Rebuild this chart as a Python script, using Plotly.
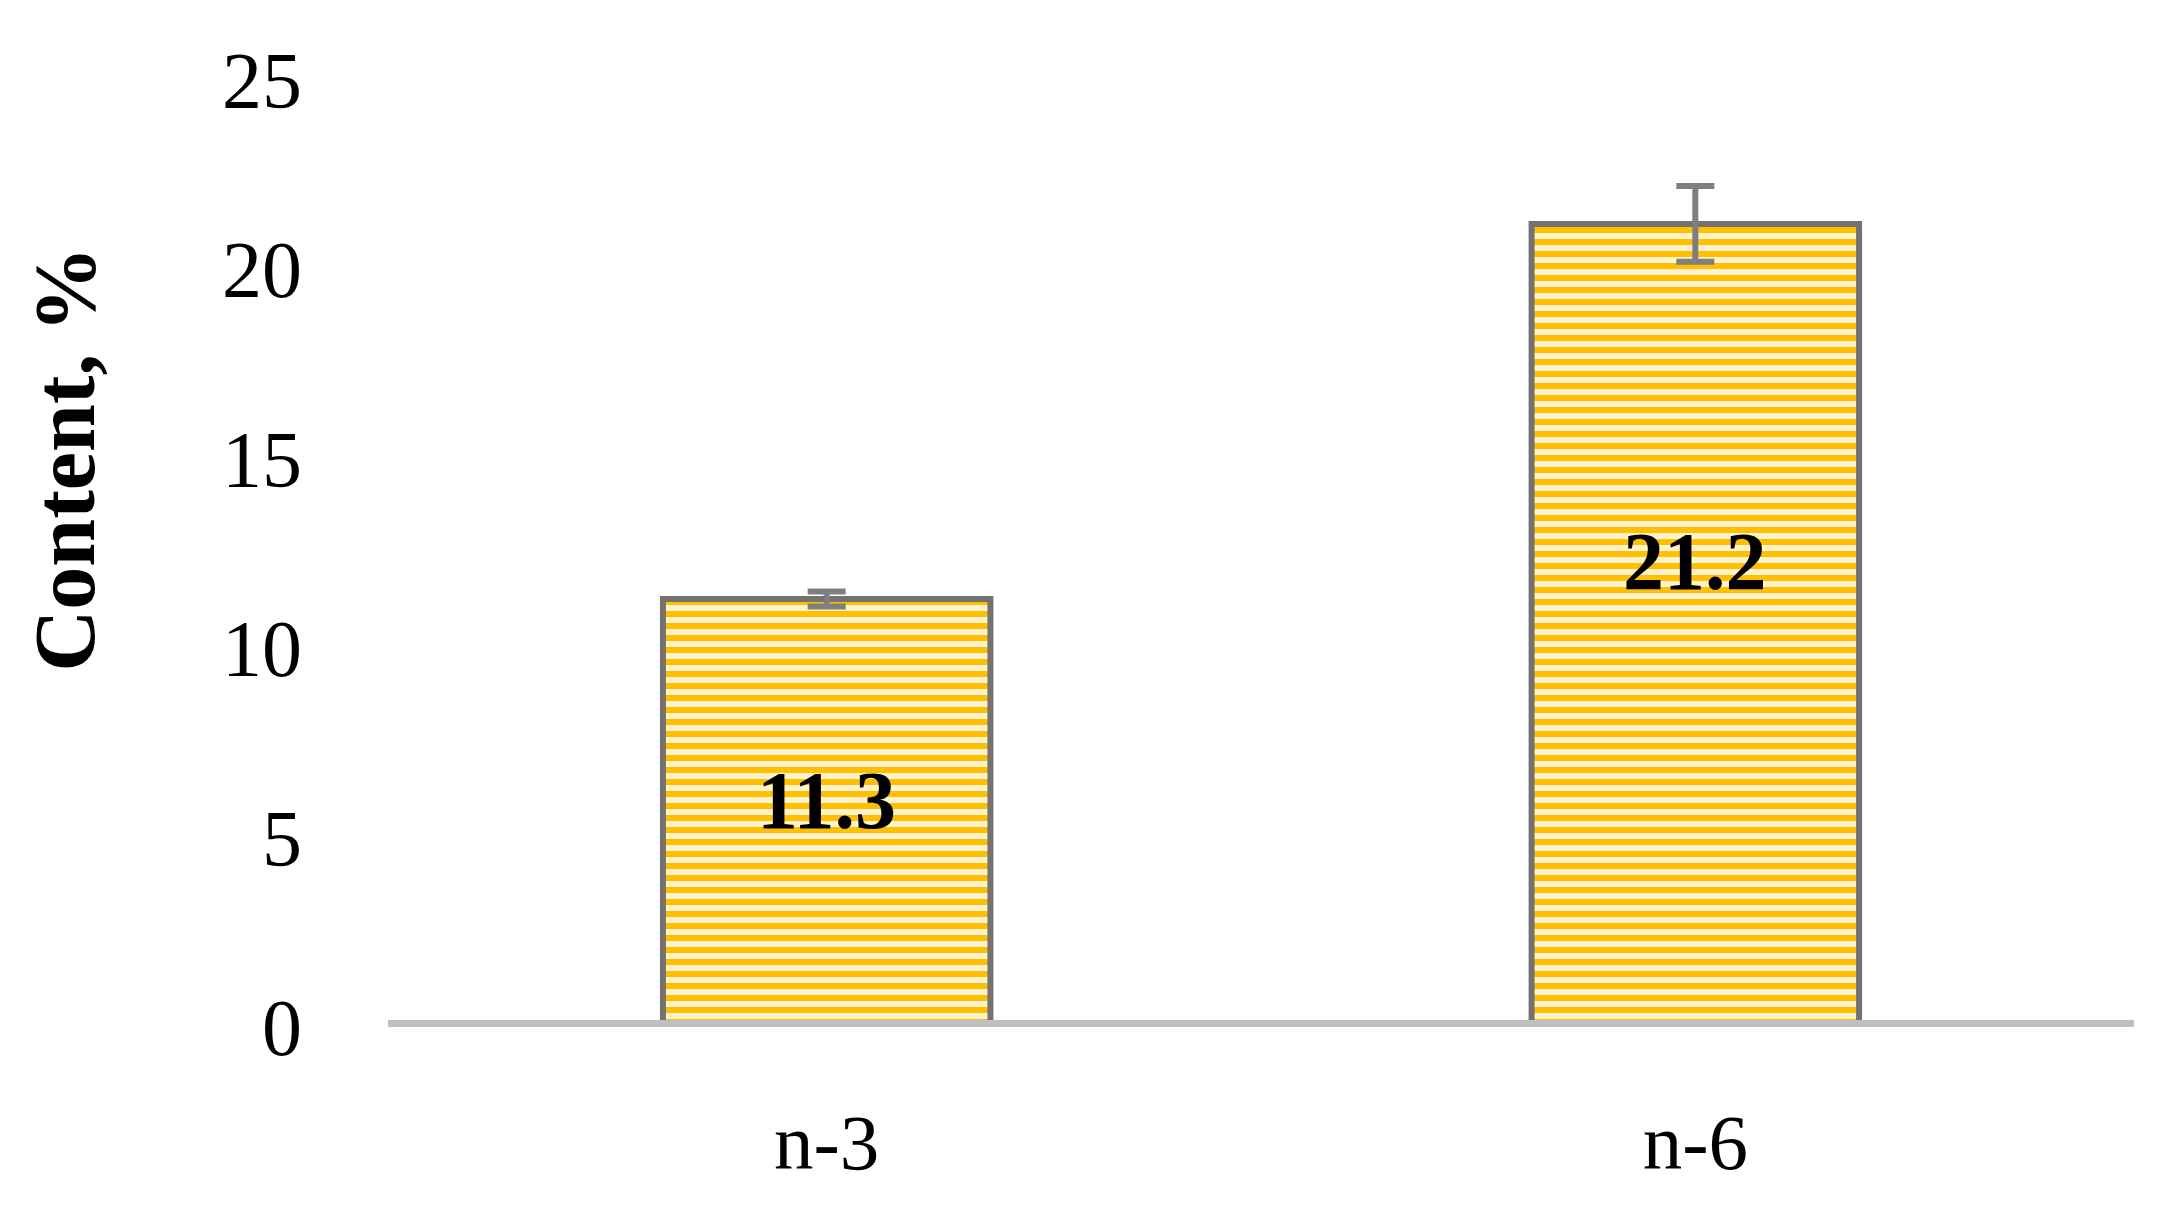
import plotly.graph_objects as go

categories = ["n-3", "n-6"]
values = [11.3, 21.2]
errors = [0.2, 1.0]
value_labels = ["11.3", "21.2"]
y_ticks = [0, 5, 10, 15, 20, 25]

FONT = "Palatino Linotype, Book Antiqua, Palatino, Liberation Serif, serif"
label_frac = [0.53, 0.58]  # vertical placement of value labels within bars

fig = go.Figure()
fig.add_trace(go.Bar(
    x=categories,
    y=values,
    width=0.377,
    marker=dict(
        color="#FFC000",
        line=dict(color="#767171", width=6),
        pattern=dict(shape="-", fgcolor="#FFC000", bgcolor="#FFF2CC",
                     size=12, solidity=0.5, fillmode="replace"),
    ),
    error_y=dict(type="data", array=errors, visible=True,
                 color="#7F7F7F", thickness=6, width=19),
    showlegend=False,
    hoverinfo="skip",
))

for c, v, t, f in zip(categories, values, value_labels, label_frac):
    fig.add_annotation(x=c, y=v * f, text="<b>" + t + "</b>", showarrow=False,
                       xanchor="center", yanchor="middle",
                       font=dict(family=FONT, size=82, color="#000000"))

fig.add_annotation(xref="paper", yref="paper", x=-0.185, y=0.60,
                   text="<b>Content, %</b>", textangle=-90, showarrow=False,
                   xanchor="center", yanchor="middle",
                   font=dict(family=FONT, size=86, color="#000000"))

fig.add_shape(type="line", xref="paper", yref="y", x0=0, x1=1, y0=0, y1=0,
              line=dict(color="#BFBFBF", width=14), layer="above")

fig.update_layout(
    width=2162, height=1209,
    margin=dict(l=380, r=36, t=72, b=190),
    paper_bgcolor="white", plot_bgcolor="white",
    font=dict(family=FONT, color="#000000"),
    xaxis=dict(range=[-0.505, 1.505], showgrid=False, zeroline=False,
               showline=False, ticks="", ticklabelstandoff=62,
               tickfont=dict(family=FONT, size=79, color="#000000")),
    yaxis=dict(range=[0, 25], tickvals=y_ticks, ticktext=[str(t) for t in y_ticks],
               showgrid=False, zeroline=False, showline=False, ticks="",
               ticklabelstandoff=85,
               tickfont=dict(family=FONT, size=80, color="#000000")),
    bargap=0.6,
)

fig.write_html("out.html")
